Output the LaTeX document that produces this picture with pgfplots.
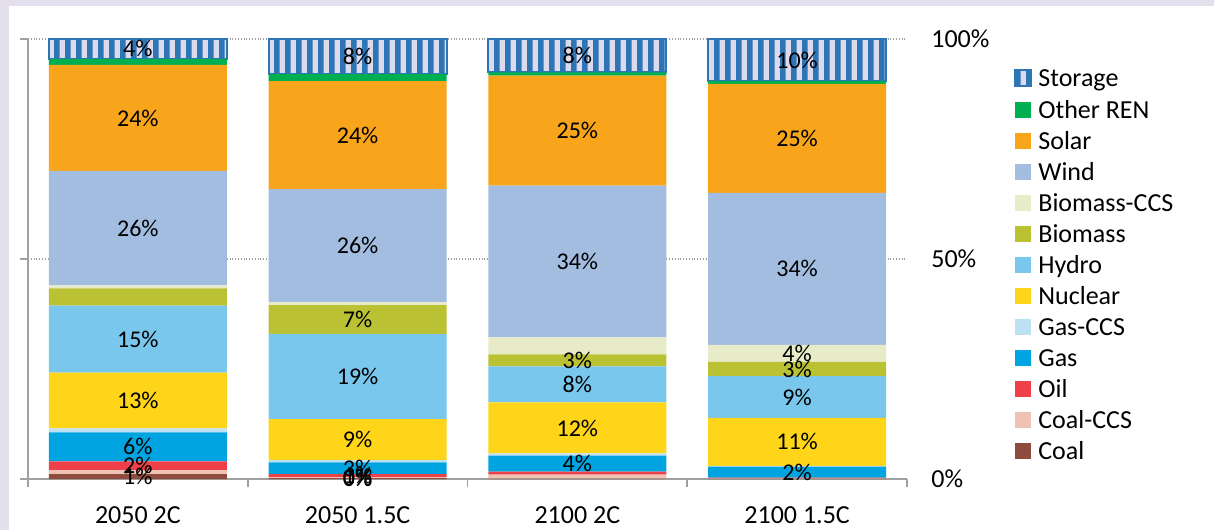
\documentclass[border=0pt]{standalone}
\usepackage{fontspec}
\setmainfont{Carlito}
\usepackage{pgfplots}
\pgfplotsset{compat=1.18}
\usepackage{pgfplotstable}
\usetikzlibrary{patterns}

\definecolor{bgl}{HTML}{E4DFEC}
\definecolor{cStorage}{HTML}{2E75B6}
\definecolor{cStorageBg}{HTML}{DDDAEE}
\definecolor{cOther}{HTML}{00B050}
\definecolor{cSolar}{HTML}{F8A51C}
\definecolor{cWind}{HTML}{A3BDE1}
\definecolor{cBioCCS}{HTML}{E8EBC8}
\definecolor{cBio}{HTML}{BAC234}
\definecolor{cHydro}{HTML}{79C7EC}
\definecolor{cNuclear}{HTML}{FED518}
\definecolor{cGasCCS}{HTML}{BDE0F3}
\definecolor{cGas}{HTML}{00A4E0}
\definecolor{cOil}{HTML}{EF404A}
\definecolor{cCoalCCS}{HTML}{EEC3B3}
\definecolor{cCoal}{HTML}{8F4B3E}
\definecolor{axgray}{HTML}{A0A0A0}

\pgfdeclarepatternformonly{vstripes}{\pgfpoint{0pt}{0pt}}{\pgfpoint{5.4pt}{5.4pt}}{\pgfpoint{5.4pt}{5.4pt}}{%
  \pgfpathrectangle{\pgfpoint{0pt}{-0.1pt}}{\pgfpoint{2.8pt}{5.6pt}}\pgfusepath{fill}}

\pgfplotstableread{
x Coal CoalCCS Oil Gas GasCCS Nuclear Hydro Biomass BiomassCCS Wind Solar OtherREN Storage
0 1.1 0.9 2.0 6.6 0.9 12.7 15.2 3.9 0.7 26.0 24.1 1.4 4.5
1 0.2 0.2 0.7 2.7 0.5 9.3 19.3 6.6 0.7 25.7 24.5 1.6 8.0
2 0.1 0.9 0.7 3.6 0.5 11.6 8.2 2.7 3.9 34.5 25.0 0.7 7.6
3 0.1 0.1 0.1 2.5 0.2 10.9 9.5 3.2 3.9 34.5 24.8 0.6 9.6
}\datatable

\newcommand{\lblf}{\fontsize{12}{14}\selectfont}
\newcommand{\bigf}{\fontsize{13}{15}\selectfont}
\tikzset{dl/.style={font=\lblf, inner sep=0pt}}
\pgfplotsset{common/.style={
  at={(14pt,25.5pt)}, anchor=south west,
  scale only axis, width=439.5pt, height=220pt,
  xmin=-0.5, xmax=3.5, ymin=0, ymax=100, clip=false}}

\begin{document}
\begin{tikzpicture}[x=1pt,y=1pt]
\useasboundingbox (0,0) rectangle (607,265);
\fill[bgl] (0,0) rectangle (607,265);
\fill[white] (4.5,0) rectangle (607,262);
\begin{axis}[
  common,
  ybar stacked, bar width=0.809,
  axis x line*=bottom, axis y line*=left,
  axis line style={axgray, line width=0.9pt},
  tick align=outside, major tick length=4pt,
  tick style={axgray, line width=0.9pt},
  xtick={-0.5,0.5,1.5,2.5,3.5},
  x tick label as interval,
  xticklabels={2050 2C,2050 1.5C,2100 2C,2100 1.5C},
  xticklabel style={font=\bigf, text=black, yshift=-6.5pt},
  ytick={0,50,100},
  yticklabels=\empty,
  ymajorgrids,
  grid style={densely dotted, axgray, line width=0.9pt},
  reverse legend,
  legend image code/.code={\fill[#1] (0pt,0pt) rectangle (8.2pt,8.2pt);},
  legend style={at={(axis description cs:1.1217,0.9318)}, anchor=north west,
    draw=none, fill=none, inner sep=0pt, outer sep=0pt,
    font=\bigf, row sep=7.3pt, column sep=3pt,
    nodes={inner sep=0pt, text height=8.2pt, text depth=0pt, anchor=base west}},
  legend cell align=left,
]
\addplot[fill=cCoal, draw=none] table[x=x,y=Coal]{\datatable};
\addplot[fill=cCoalCCS, draw=none] table[x=x,y=CoalCCS]{\datatable};
\addplot[fill=cOil, draw=none] table[x=x,y=Oil]{\datatable};
\addplot[fill=cGas, draw=none] table[x=x,y=Gas]{\datatable};
\addplot[fill=cGasCCS, draw=none] table[x=x,y=GasCCS]{\datatable};
\addplot[fill=cNuclear, draw=none] table[x=x,y=Nuclear]{\datatable};
\addplot[fill=cHydro, draw=none] table[x=x,y=Hydro]{\datatable};
\addplot[fill=cBio, draw=none] table[x=x,y=Biomass]{\datatable};
\addplot[fill=cBioCCS, draw=none] table[x=x,y=BiomassCCS]{\datatable};
\addplot[fill=cWind, draw=none] table[x=x,y=Wind]{\datatable};
\addplot[fill=cSolar, draw=none] table[x=x,y=Solar]{\datatable};
\addplot[fill=cOther, draw=none] table[x=x,y=OtherREN]{\datatable};
\addplot[preaction={fill=cStorageBg}, pattern=vstripes, pattern color=cStorage,
  draw=cStorage, line width=1pt] table[x=x,y=Storage]{\datatable};
\legend{Coal,Coal-CCS,Oil,Gas,Gas-CCS,Nuclear,Hydro,Biomass,Biomass-CCS,Wind,Solar,Other REN,Storage}
\end{axis}

\begin{axis}[
  common,
  hide x axis,
  axis y line*=right,
  y axis line style={draw=none},
  major tick length=0pt,
  ytick={0,50,100},
  yticklabels={0\%,50\%,100\%},
  yticklabel style={font=\bigf, text=black, xshift=8.65pt},
]
% 2050 2C
\node[dl] at (axis cs:0,0.55) {1\%};
\node[dl] at (axis cs:0,3.0) {2\%};
\node[dl] at (axis cs:0,7.3) {6\%};
\node[dl] at (axis cs:0,17.85) {13\%};
\node[dl] at (axis cs:0,31.8) {15\%};
\node[dl] at (axis cs:0,57) {26\%};
\node[dl] at (axis cs:0,82.05) {24\%};
\node[dl] at (axis cs:0,97.75) {4\%};
% 2050 1.5C
\node[dl] at (axis cs:1,0.1) {0\%};
\node[dl] at (axis cs:1,0.3) {0\%};
\node[dl] at (axis cs:1,0.75) {1\%};
\node[dl] at (axis cs:1,2.45) {3\%};
\node[dl] at (axis cs:1,8.95) {9\%};
\node[dl] at (axis cs:1,23.25) {19\%};
\node[dl] at (axis cs:1,36.2) {7\%};
\node[dl] at (axis cs:1,53.05) {26\%};
\node[dl] at (axis cs:1,78.15) {24\%};
\node[dl] at (axis cs:1,96) {8\%};
% 2100 2C
\node[dl] at (axis cs:2,3.5) {4\%};
\node[dl] at (axis cs:2,11.6) {12\%};
\node[dl] at (axis cs:2,21.5) {8\%};
\node[dl] at (axis cs:2,26.95) {3\%};
\node[dl] at (axis cs:2,49.45) {34\%};
\node[dl] at (axis cs:2,79.2) {25\%};
\node[dl] at (axis cs:2,96.2) {8\%};
% 2100 1.5C
\node[dl] at (axis cs:3,1.55) {2\%};
\node[dl] at (axis cs:3,8.45) {11\%};
\node[dl] at (axis cs:3,18.65) {9\%};
\node[dl] at (axis cs:3,25.0) {3\%};
\node[dl] at (axis cs:3,28.55) {4\%};
\node[dl] at (axis cs:3,47.75) {34\%};
\node[dl] at (axis cs:3,77.4) {25\%};
\node[dl] at (axis cs:3,95.2) {10\%};
\end{axis}
\end{tikzpicture}
\end{document}
